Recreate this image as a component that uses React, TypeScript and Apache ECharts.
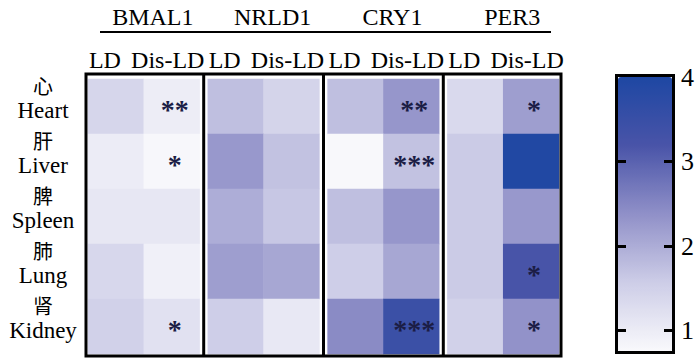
import React, { useEffect, useRef } from "react";
import * as echarts from "echarts";

// ---------- data ----------
const organsCn = ["心", "肝", "脾", "肺", "肾"];
const organsEn = ["Heart", "Liver", "Spleen", "Lung", "Kidney"];
const genes = ["BMAL1", "NRLD1", "CRY1", "PER3"];
const conditions = ["LD", "Dis-LD"];

const bmal1LD = [1.4, 1.0, 1.1, 1.38, 1.5];
const bmal1Dis = [0.98, 0.8, 1.1, 0.92, 1.2];
const nrld1LD = [1.75, 2.27, 2.0, 2.2, 1.55];
const nrld1Dis = [1.45, 1.72, 1.65, 2.08, 1.08];
const cry1LD = [1.75, 0.78, 1.75, 1.55, 2.45];
const cry1Dis = [2.3, 1.72, 2.3, 2.08, 3.45];
const per3LD = [1.35, 1.6, 1.6, 1.6, 1.5];
const per3Dis = [2.2, 3.95, 2.28, 3.2, 2.35];

const bmal1Stars = ["**", "*", "", "", "*"];
const nrld1Stars = ["", "", "", "", ""];
const cry1Stars = ["**", "***", "", "", "***"];
const per3Stars = ["*", "", "", "*", "*"];

const scaleMin = 0.76;
const scaleMax = 4;
const scaleTicks = [1, 2, 3];
const scaleLabels = [1, 2, 3, 4];

const groups = [
  { ld: bmal1LD, dis: bmal1Dis, stars: bmal1Stars },
  { ld: nrld1LD, dis: nrld1Dis, stars: nrld1Stars },
  { ld: cry1LD, dis: cry1Dis, stars: cry1Stars },
  { ld: per3LD, dis: per3Dis, stars: per3Stars },
];

// ---------- layout ----------
const GRID_LEFT = 88;
const GROUP_STEP = 119.8;
const GROUP_W = 111.6;
const GRID_TOP = 76;
const GRID_H = 278;
const BAR_LEFT = 618;
const BAR_TOP = 77;
const BAR_W = 54;
const BAR_H = 274;

const SERIF = '"Liberation Serif", "Times New Roman", serif';

export default function App() {
  const ref = useRef<HTMLDivElement>(null);
  useEffect(() => {
    if (!ref.current) return;
    const chart = echarts.init(ref.current, null, { renderer: "svg" });

    const grids: any[] = [];
    const xAxes: any[] = [];
    const yAxes: any[] = [];
    const series: any[] = [];

    groups.forEach((g, i) => {
      grids.push({
        left: GRID_LEFT + i * GROUP_STEP,
        top: GRID_TOP,
        width: GROUP_W,
        height: GRID_H,
      });
      xAxes.push({
        type: "category",
        gridIndex: i,
        data: conditions,
        position: "top",
        axisLine: { show: false },
        axisTick: { show: false },
        splitLine: { show: false },
        axisLabel: {
          interval: 0,
          margin: 7,
          color: "#000",
          formatter: (v: string) => (v === "LD" ? `{ld|${v}}` : `{dis|${v}}`),
          rich: {
            ld: {
              fontSize: 24,
              fontFamily: SERIF,
              color: "#000",
              padding: [0, 22, 0, 0],
            },
            dis: {
              fontSize: 24,
              fontFamily: SERIF,
              color: "#000",
              padding: [0, 8, 0, 0],
            },
          },
        },
        name: genes[i],
        nameLocation: "middle",
        nameGap: 50,
        nameTextStyle: {
          fontSize: 24,
          fontFamily: SERIF,
          color: "#000",
          padding: [0, 0, 0, 18],
        },
      });
      yAxes.push({
        type: "category",
        gridIndex: i,
        data: organsEn,
        inverse: true,
        axisLine: { show: false },
        axisTick: { show: false },
        splitLine: { show: false },
        axisLabel:
          i === 0
            ? {
                show: true,
                interval: 0,
                align: "center",
                margin: 45,
                color: "#000",
                formatter: (v: string, idx: number) =>
                  `{cn|${organsCn[idx]}}\n{en|${v}}\n{sp| }`,
                rich: {
                  cn: {
                    fontFamily: '"Noto Sans CJK SC"',
                    fontSize: 20,
                    lineHeight: 25,
                    color: "#000",
                    align: "center",
                  },
                  en: {
                    fontFamily: SERIF,
                    fontSize: 23,
                    lineHeight: 25,
                    color: "#000",
                    align: "center",
                  },
                  sp: { fontSize: 8, lineHeight: 18, align: "center" },
                },
              }
            : { show: false },
      });
      const data: any[] = [];
      organsEn.forEach((_, r) => {
        data.push([0, r, g.ld[r]]);
        data.push([1, r, g.dis[r]]);
      });
      const stars = g.stars;
      series.push({
        type: "heatmap",
        xAxisIndex: i,
        yAxisIndex: i,
        data,
        label: {
          show: true,
          formatter: (p: any) => (p.data[0] === 1 ? stars[p.data[1]] : ""),
          fontSize: 28,
          fontWeight: "bold",
          fontFamily: SERIF,
          color: "#1b1d45",
          offset: [3, 3],
        },
        itemStyle: { borderWidth: 0 },
        emphasis: { disabled: true },
      });
    });

    // colour bar axes (grid index 4)
    grids.push({ left: BAR_LEFT, top: BAR_TOP, width: BAR_W, height: BAR_H });
    xAxes.push({ type: "value", gridIndex: 4, show: false });
    const barAxisBase = {
      type: "value",
      gridIndex: 4,
      min: scaleMin,
      max: scaleMax,
      z: 10,
      axisLine: { show: false },
      splitLine: { show: false },
      axisTick: {
        show: true,
        inside: true,
        length: 8,
        customValues: scaleTicks,
        lineStyle: { width: 3, color: "#000" },
      },
    };
    yAxes.push({
      ...barAxisBase,
      position: "left",
      axisLabel: { show: false },
    });
    yAxes.push({
      ...barAxisBase,
      position: "right",
      axisLabel: {
        show: true,
        customValues: scaleLabels,
        margin: 9,
        fontSize: 26,
        fontFamily: SERIF,
        color: "#000",
      },
    });

    const lastRight = GRID_LEFT + 3 * GROUP_STEP + GROUP_W;
    const graphics: any[] = [
      {
        type: "rect",
        shape: {
          x: GRID_LEFT - 2,
          y: GRID_TOP - 2,
          width: lastRight - GRID_LEFT + 4,
          height: GRID_H + 4,
        },
        style: { fill: "none", stroke: "#000", lineWidth: 3 },
        z: 20,
      },
      {
        type: "line",
        shape: { x1: GRID_LEFT + 12, y1: 32, x2: lastRight - 8, y2: 32 },
        style: { stroke: "#000", lineWidth: 2 },
      },
      {
        type: "rect",
        shape: { x: BAR_LEFT - 1.5, y: BAR_TOP - 1.5, width: BAR_W + 3, height: BAR_H + 3 },
        style: { fill: "none", stroke: "#000", lineWidth: 3 },
        z: 20,
      },
    ];
    for (let i = 0; i < 3; i++) {
      const x = GRID_LEFT + i * GROUP_STEP + GROUP_W + (GROUP_STEP - GROUP_W) / 2;
      graphics.push({
        type: "line",
        shape: { x1: x, y1: GRID_TOP - 2, x2: x, y2: GRID_TOP + GRID_H + 2 },
        style: { stroke: "#000", lineWidth: 3 },
        z: 20,
      });
    }

    chart.setOption({
      animation: false,
      backgroundColor: "#fff",
      grid: grids,
      xAxis: xAxes,
      yAxis: yAxes,
      visualMap: {
        type: "continuous",
        min: scaleMin,
        max: scaleMax,
        seriesIndex: [0, 1, 2, 3],
        orient: "vertical",
        left: BAR_LEFT,
        top: BAR_TOP,
        itemWidth: BAR_W,
        itemHeight: BAR_H,
        padding: 0,
        calculable: false,
        hoverLink: false,
        inRange: {
          color: ["#f9f9fc", "#cdcde7", "#9090c8", "#4954a8", "#1e47a3"],
        },
      },
      series,
      graphic: graphics,
    });

    return () => chart.dispose();
  }, []);

  return (
    <div
      ref={ref}
      style={{ position: "absolute", left: 0, top: 0, width: 700, height: 364 }}
    />
  );
}
